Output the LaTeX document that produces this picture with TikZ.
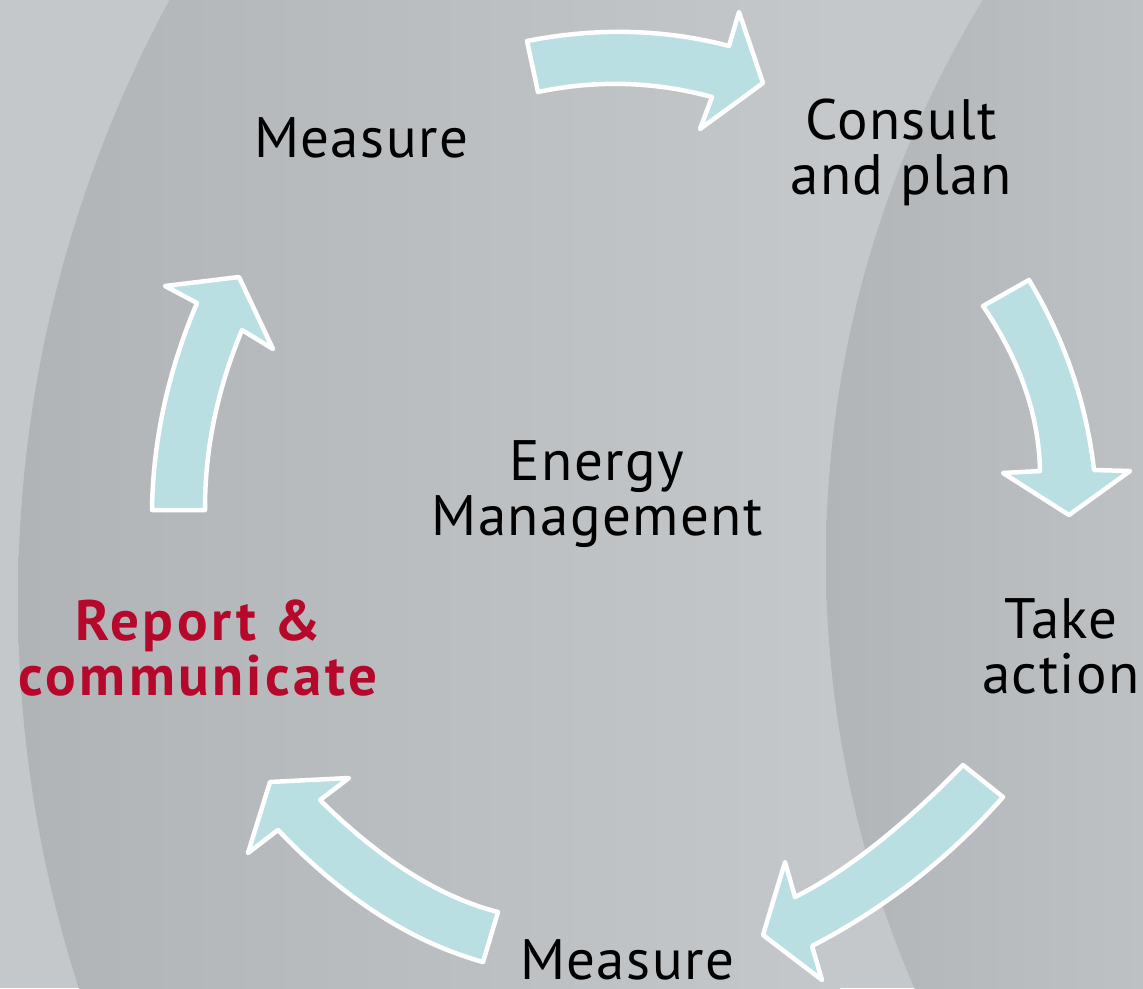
\documentclass[tikz,border=0pt]{standalone}
\usepackage{fontspec}
\setmainfont{PT Sans}[LetterSpace=2.5, BoldFeatures={LetterSpace=6}]
\definecolor{bglight}{HTML}{C5C8CA}
\definecolor{bgdark}{HTML}{B1B4B7}
\definecolor{bgdarkr}{HTML}{B2B5B8}
\definecolor{bgrightend}{HTML}{BEC1C3}
\definecolor{arrowfill}{HTML}{B9DFE3}
\definecolor{accentred}{HTML}{B5082B}
\tikzset{
  blockarrow/.style={fill=arrowfill, draw=white, line width=4.5pt, line join=round},
  steplabel/.style={inner sep=0pt, align=center, font=\fontsize{57}{55}\selectfont, text=black},
  redlabel/.style={steplabel, font=\fontsize{57}{55}\selectfont\bfseries, text=accentred}
}
\begin{document}
\begin{tikzpicture}[x=1pt,y=-1pt]
\useasboundingbox (0,0) rectangle (1143,988);
% background
\fill[bglight] (0,0) rectangle (1143,988);
\begin{scope}
  \clip (1280,600) circle[radius=1262];
  \shade[left color=bgdark, right color=bglight] (18,0) rectangle (840,988);
\end{scope}
\begin{scope}
  \clip (1903,560) circle[radius=1077];
  \shade[left color=bgdarkr, right color=bgrightend] (826,0) rectangle (1143,988);
\end{scope}

% arrow 1: top
\draw[blockarrow] (527,41) .. controls (597,27.3) and (664.3,29) .. (729,46) -- (739,12) -- (763,83) -- (700,129) -- (712,97)
  .. controls (654,81.3) and (596,79.7) .. (538,92) -- cycle;
% arrow 2: right
\draw[blockarrow] (1029,280) .. controls (1064.7,339.3) and (1086.3,402.7) .. (1094,470) -- (1130,471) -- (1069,515) -- (1003,473) -- (1040,471)
  .. controls (1039,415.3) and (1020,360.3) .. (983,306) -- cycle;
% arrow 3: bottom right
\draw[blockarrow] (1003,797) .. controls (949.3,858) and (885.7,907.7) .. (812,946) -- (822,980) -- (763,935) -- (785,862) -- (795,897)
  .. controls (845.7,871.7) and (901.7,827.7) .. (963,765) -- cycle;
% arrow 4: bottom left
\draw[blockarrow] (498,912) .. controls (440,897.3) and (380.7,860) .. (320,800) -- (349,778) -- (270,782) -- (248,853) -- (278,830)
  .. controls (343,898) and (411.3,942) .. (483,962) -- cycle;
% arrow 5: left
\draw[blockarrow] (205,510) .. controls (204.7,450) and (217,390) .. (242,330) -- (273,349) -- (239,277) -- (165,286) -- (197,303)
  .. controls (168,371.3) and (153,440.3) .. (152,510) -- cycle;

% labels
\node[steplabel] (measuretop) at (361,138) {Measure};
\node[steplabel] (consult) at (901,152) {Consult\\and plan};
\node[steplabel] (energy) at (597,494) {Energy\\Management};
\node[steplabel] (action) at (1061,646) {Take\\action};
\node[steplabel] (measurebot) at (627,960) {Measure};
\node[redlabel] (report) at (198,648) {Report \&\\communicate};
\end{tikzpicture}
\end{document}
